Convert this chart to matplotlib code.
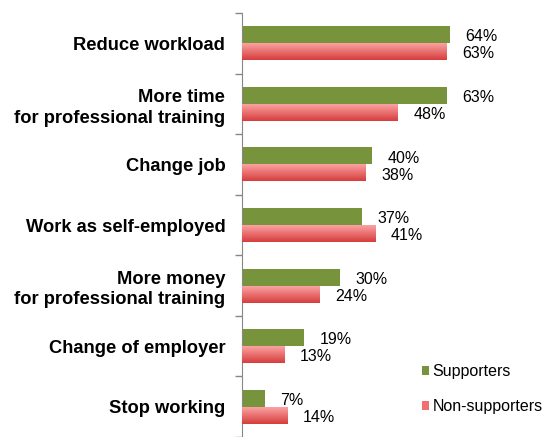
import matplotlib.pyplot as plt
from matplotlib.patches import Patch
import numpy as np

plt.rcParams["font.family"] = ["Liberation Sans", "DejaVu Sans"]

categories = [
    "Reduce workload",
    "More time\nfor professional training",
    "Change job",
    "Work as self-employed",
    "More money\nfor professional training",
    "Change of employer",
    "Stop working",
]
supporters = [64, 63, 40, 37, 30, 19, 7]
non_supporters = [63, 48, 38, 41, 24, 13, 14]

green = "#77933C"
red_top = "#FCA3A3"
red_bottom = "#D63C3C"

fig = plt.figure(figsize=(5.44, 4.37), dpi=100)
ax = fig.add_axes([242 / 544, 0, 1 - 242 / 544, 1 - 13 / 437])

y = np.arange(len(categories))
h = 0.28

ax.barh(y - h / 2, supporters, height=h, color=green, zorder=2)
red_bars = ax.barh(y + h / 2, non_supporters, height=h, color=red_bottom, zorder=2)

# vertical gradient on the red bars
grad = np.linspace(0, 1, 64).reshape(-1, 1)
cmap = plt.matplotlib.colors.LinearSegmentedColormap.from_list("r", [red_top, red_bottom])
for bar in red_bars:
    x0, y0 = bar.get_x(), bar.get_y()
    w, hh = bar.get_width(), bar.get_height()
    im = ax.imshow(grad, extent=(x0, x0 + w, y0 + hh, y0), aspect="auto",
                   cmap=cmap, zorder=3, interpolation="bicubic")
    im.set_clip_path(bar)

off = 0.035
for yi, s, n in zip(y, supporters, non_supporters):
    ax.text(s + 4.8, yi - h / 2 + off, f"{s}%", va="center", ha="left", fontsize=11.5)
    ax.text(n + 4.8, yi + h / 2 + off, f"{n}%", va="center", ha="left", fontsize=11.5)

ax.set_xlim(0, (544 - 242) / 3.25)
ax.set_ylim(len(categories) - 0.5, -0.5)

ax.set_yticks(y)
ax.set_yticklabels(categories, fontsize=13.2, fontweight="bold", ha="right",
                   multialignment="right", linespacing=1.3)
ax.tick_params(axis="y", which="major", length=0, pad=12)
ax.set_yticks(np.arange(len(categories) + 1) - 0.5, minor=True)
ax.tick_params(axis="y", which="minor", length=5, color="#868686", width=1)
ax.set_xticks([])

for side in ["top", "right", "bottom"]:
    ax.spines[side].set_visible(False)
ax.spines["left"].set_color("#868686")

handles = [Patch(facecolor=green, label="Supporters"),
           Patch(facecolor="#F07070", label="Non-supporters")]
fig.legend(handles=handles, loc="upper left", bbox_to_anchor=(422 / 544, 1 - 364 / 437),
           frameon=False, fontsize=11.5, handlelength=0.45, handleheight=0.45,
           handletextpad=0.2, labelspacing=1.25, borderaxespad=0, borderpad=0)

fig.savefig("out.png", dpi=100)
